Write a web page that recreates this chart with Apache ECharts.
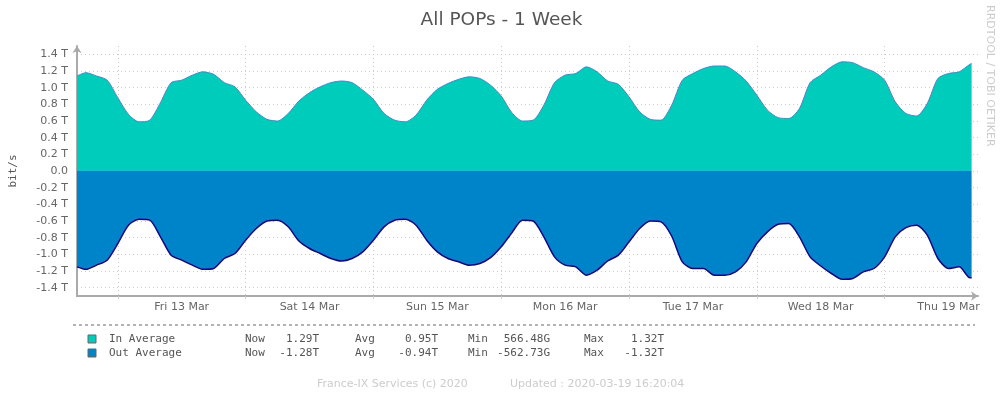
<!DOCTYPE html>
<html>
<head>
<meta charset="utf-8">
<title>All POPs - 1 Week</title>
<script src="https://cdn.jsdelivr.net/npm/echarts/dist/echarts.min.js"></script>
<style>
  html, body { margin: 0; padding: 0; background: #fff; }
  #main { width: 1003px; height: 397px; }
</style>
</head>
<body>
<div id="main"></div>
<script>
// sample times, hours since 2020-03-12 00:00 (window: Thu 12 16:20 -> Thu 19 16:20)
const tStart = 16.334
const tEnd = 184.334
const hours = [tStart].concat(Array.from({ length: 84 }, (_, i) => 18 + 2 * i)).concat([tEnd])

// In Average, Tbit/s
const inAvg = [
  1.14, 1.18, 1.14, 1.09, 0.88, 0.68, 0.59, 0.61, 0.82, 1.06, 1.09, 1.15,
  1.19, 1.16, 1.06, 1.01, 0.85, 0.71, 0.62, 0.60, 0.69, 0.84, 0.94, 1.01,
  1.06, 1.08, 1.06, 0.97, 0.86, 0.69, 0.61, 0.59, 0.67, 0.85, 0.98, 1.05,
  1.10, 1.13, 1.11, 1.03, 0.90, 0.70, 0.60, 0.61, 0.79, 1.06, 1.15, 1.17,
  1.25, 1.19, 1.08, 1.04, 0.89, 0.71, 0.62, 0.61, 0.79, 1.09, 1.17, 1.23,
  1.26, 1.26, 1.19, 1.08, 0.91, 0.73, 0.64, 0.63, 0.75, 1.06, 1.15, 1.25,
  1.31, 1.30, 1.24, 1.19, 1.09, 0.83, 0.69, 0.66, 0.81, 1.11, 1.17, 1.19,
  1.28, 1.29
]
// Out Average, Tbit/s (drawn negative)
const outAvg = [
  -1.15, -1.18, -1.13, -1.07, -0.87, -0.65, -0.58, -0.59, -0.79, -1.01, -1.07, -1.13,
  -1.18, -1.17, -1.05, -0.99, -0.83, -0.69, -0.60, -0.59, -0.67, -0.84, -0.93, -0.99,
  -1.05, -1.08, -1.05, -0.97, -0.83, -0.67, -0.59, -0.58, -0.65, -0.83, -0.97, -1.05,
  -1.09, -1.13, -1.11, -1.04, -0.91, -0.74, -0.59, -0.60, -0.79, -1.03, -1.13, -1.15,
  -1.25, -1.19, -1.08, -1.01, -0.85, -0.69, -0.60, -0.61, -0.78, -1.09, -1.17, -1.17,
  -1.25, -1.25, -1.21, -1.09, -0.87, -0.73, -0.64, -0.63, -0.79, -1.03, -1.14, -1.23,
  -1.30, -1.29, -1.21, -1.17, -1.03, -0.79, -0.68, -0.65, -0.77, -1.05, -1.17, -1.15,
  -1.28, -1.28
]

const yTicks = [-1.4, -1.2, -1.0, -0.8, -0.6, -0.4, -0.2, 0, 0.2, 0.4, 0.6, 0.8, 1.0, 1.2, 1.4]
const dayLines = [24, 48, 72, 96, 120, 144, 168]
const dayLabels = [36, 60, 84, 108, 132, 156, 180]
const dayNames = ['Sun', 'Mon', 'Tue', 'Wed', 'Thu', 'Fri', 'Sat']

const inStats = ['1.29T', '0.95T', '566.48G', '1.32T']
const outStats = ['-1.28T', '-0.94T', '-562.73G', '-1.32T']

const inColor = '#00CCBB'
const outColor = '#0084C9'
const textGray = '#555'
const mono = '11px "DejaVu Sans Mono", monospace'

function pairs(vals) {
  return vals.map((v, i) => [hours[i], v])
}

function legendRow(y, color, name, stats) {
  const items = [
    { type: 'rect', shape: { x: 88, y: y - 4, width: 8, height: 8 },
      style: { fill: color, stroke: '#666', lineWidth: 1 } },
    { type: 'text', x: 109, y: y, style: { text: name, font: mono, fill: textGray, textVerticalAlign: 'middle' } }
  ]
  const labels = ['Now', 'Avg', 'Min', 'Max']
  const labelX = [245, 355, 468, 584]
  const valueRight = [319, 438, 550, 664]
  labels.forEach((l, i) => {
    items.push({ type: 'text', x: labelX[i], y: y,
      style: { text: l, font: mono, fill: textGray, textVerticalAlign: 'middle' } })
    items.push({ type: 'text', x: valueRight[i], y: y,
      style: { text: stats[i], font: mono, fill: textGray, textAlign: 'right', textVerticalAlign: 'middle' } })
  })
  return items
}

const chart = echarts.init(document.getElementById('main'))

const option = {
  animation: false,
  backgroundColor: '#fff',
  title: {
    text: 'All POPs - 1 Week',
    left: 'center',
    top: 6,
    textStyle: { fontFamily: 'DejaVu Sans', fontSize: 18.5, fontWeight: 'normal', color: '#555' }
  },
  grid: { left: 73, right: 25, top: 46, bottom: 101 },
  xAxis: {
    type: 'value',
    min: tStart,
    max: tEnd + 1.2,
    axisLine: {
      onZero: false,
      symbol: ['none', 'arrow'],
      symbolSize: [7, 7],
      lineStyle: { color: '#aaa', width: 2 }
    },
    axisTick: { show: true, customValues: dayLines, length: 3, lineStyle: { color: '#ccc' } },
    axisLabel: {
      customValues: dayLabels,
      color: '#666',
      fontFamily: 'DejaVu Sans',
      fontSize: 11,
      margin: 6,
      formatter: (h) => {
        const d = new Date(Date.UTC(2020, 2, 12) + h * 3600 * 1000)
        return dayNames[d.getUTCDay()] + ' ' + d.getUTCDate() + ' Mar'
      }
    },
    splitLine: { show: true, lineStyle: { color: '#ccc', type: [1, 3], width: 1 } }
  },
  yAxis: {
    type: 'value',
    min: -1.5,
    max: 1.5,
    name: 'bit/s',
    nameLocation: 'middle',
    nameRotate: 90,
    nameGap: 58,
    nameTextStyle: { fontFamily: 'DejaVu Sans Mono', fontSize: 11, color: '#555' },
    axisLine: {
      symbol: ['none', 'arrow'],
      symbolSize: [7, 7],
      lineStyle: { color: '#aaa', width: 2 }
    },
    axisTick: { show: false, customValues: yTicks },
    axisLabel: {
      customValues: yTicks,
      color: '#666',
      fontFamily: 'DejaVu Sans',
      fontSize: 11,
      margin: 9,
      formatter: (v) => Math.abs(v) < 1e-9 ? '0.0' : v.toFixed(1) + ' T'
    },
    splitLine: { show: true, lineStyle: { color: '#ccc', type: [1, 3], width: 1 } }
  },
  series: [
    {
      name: 'In Average',
      type: 'line',
      data: pairs(inAvg),
      showSymbol: false,
      smooth: 0.25,
      lineStyle: { color: '#7a70b8', width: 1 },
      areaStyle: { color: inColor, opacity: 1 },
      z: 3
    },
    {
      name: 'Out Average',
      type: 'line',
      data: pairs(outAvg),
      showSymbol: false,
      smooth: 0.25,
      lineStyle: { color: '#0a0a8c', width: 1.5 },
      areaStyle: { color: outColor, opacity: 1 },
      z: 3
    }
  ],
  graphic: [
    { type: 'line', shape: { x1: 73, y1: 325, x2: 975, y2: 325 },
      style: { stroke: '#666', lineWidth: 1, lineDash: [3, 3] } },
    ...legendRow(339, inColor, 'In Average', inStats),
    ...legendRow(353, outColor, 'Out Average', outStats),
    { type: 'text', x: 317, y: 384,
      style: { text: 'France-IX Services (c) 2020', font: '11px "DejaVu Sans"', fill: '#ccc', textVerticalAlign: 'middle' } },
    { type: 'text', x: 510, y: 384,
      style: { text: 'Updated : 2020-03-19 16:20:04', font: '11px "DejaVu Sans"', fill: '#ccc', textVerticalAlign: 'middle' } },
    { type: 'text', x: 990, y: 5, rotation: -Math.PI / 2,
      style: { text: 'RRDTOOL / TOBI OETIKER', font: '11px "DejaVu Sans"', fill: '#ccc', textVerticalAlign: 'middle' } }
  ]
}

chart.setOption(option)
</script>
</body>
</html>
